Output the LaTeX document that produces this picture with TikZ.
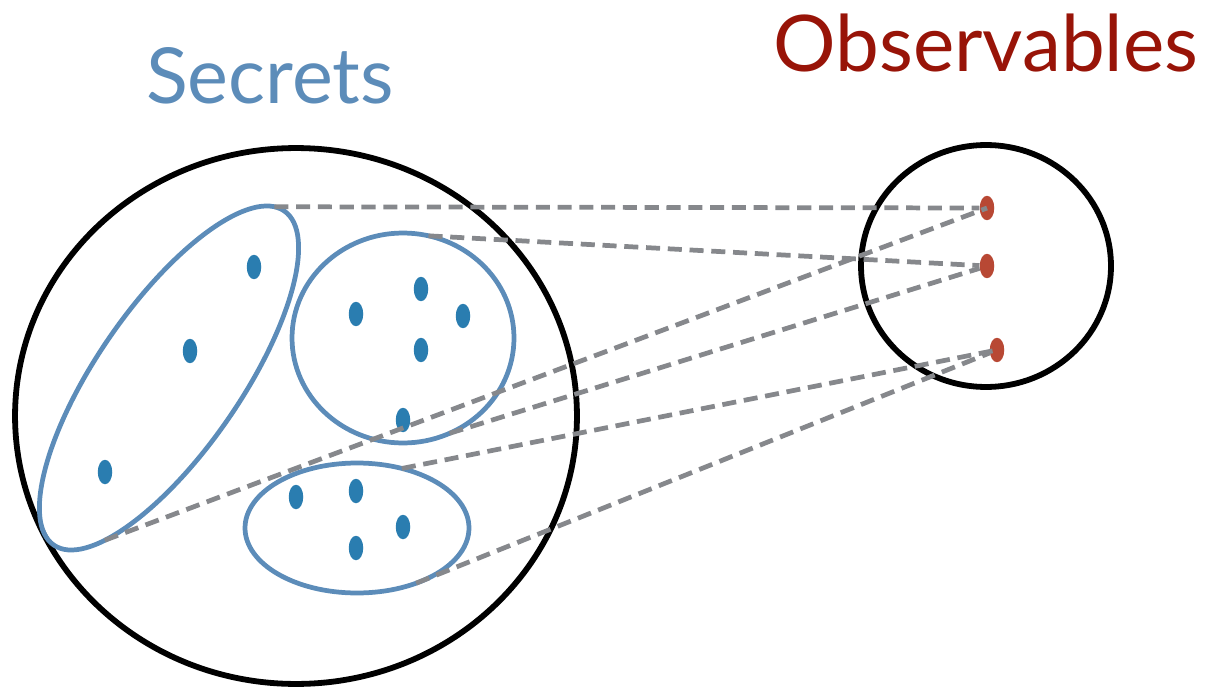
\documentclass[tikz,border=0pt]{standalone}
\usepackage{fontspec}
\newfontfamily\labelfont{Lato}
\usetikzlibrary{shapes.geometric}
\definecolor{secblue}{RGB}{92,140,185}
\definecolor{dotblue}{RGB}{42,125,176}
\definecolor{obsred}{RGB}{152,20,8}
\definecolor{dotred}{RGB}{184,72,52}
\definecolor{linkgray}{RGB}{134,136,140}
\tikzset{
  space/.style ={draw=black, line width=3.3pt, ellipse, inner sep=0pt, outer sep=0pt},
  grp/.style   ={draw=secblue, line width=2.7pt, ellipse, inner sep=0pt, outer sep=0pt},
  sdot/.style  ={ellipse, fill=dotblue, inner sep=0pt, minimum width=2.9mm, minimum height=4.9mm},
  odot/.style  ={sdot, fill=dotred},
  link/.style  ={draw=linkgray, line width=2.7pt, dash pattern=on 8pt off 4.4pt},
  ttl/.style   ={anchor=base, inner sep=0pt}
}

\begin{document}
\begin{tikzpicture}[x=0.02cm, y=-0.02cm]
  \useasboundingbox (0,0) rectangle (1206,689);
  \node[ttl, text=secblue, font=\labelfont\fontsize{44}{52}\selectfont] (sec) at (270,104) {Secrets};
  \node[ttl, text=obsred, font=\labelfont\fontsize{44.5}{52}\selectfont] (obs) at (986,72) {Observables};

  % the two spaces
  \node[space, minimum width=11.24cm, minimum height=10.72cm] (S) at (296,416) {};
  \node[space, minimum width=5cm, minimum height=4.84cm] (O) at (986,266) {};

  % groups of secrets
  \node[grp, rotate=55.4, minimum width=8.12cm, minimum height=2.88cm] (g1) at (169,378) {};
  \node[grp, minimum width=4.44cm, minimum height=4.2cm] (g2) at (403,338) {};
  \node[grp, minimum width=4.48cm, minimum height=2.6cm] (g3) at (357,528) {};

  \foreach \p [count=\i] in {(254,267),(190,351),(105,472),(356,314),(421,289),(463,316),
                             (421,350),(403,420),(296,497),(356,491),(403,527),(356,548)}
    \node[sdot] (s\i) at \p {};

  \node[odot] (o1) at (987,208) {};
  \node[odot] (o2) at (987,266) {};
  \node[odot] (o3) at (997,350) {};

  % each group is sent to one observable
  \draw[link] (g1.3) -- (o1);
  \draw[link] (g1.-167) -- (o1.center);
  \draw[link] (g2.76) -- (o2);
  \draw[link] (g2.-64) -- (o2);
  \draw[link] (g3.53) -- (o3.center);
  \draw[link] (g3.-43) -- (o3);
\end{tikzpicture}
\end{document}
